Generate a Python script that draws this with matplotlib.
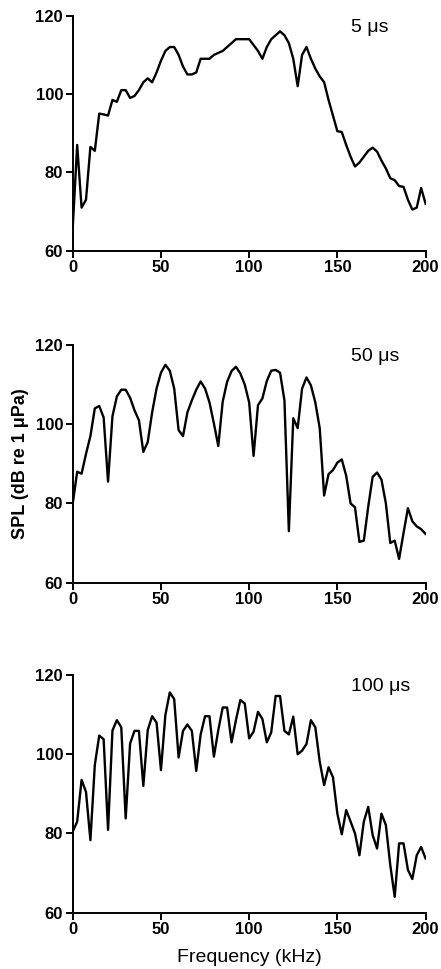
import numpy as np
import matplotlib
matplotlib.use("Agg")
import matplotlib.pyplot as plt

plt.rcParams['font.family'] = ['Liberation Sans', 'DejaVu Sans']

# frequency axis, 2.5 kHz steps
freq_khz = np.arange(0, 200.1, 2.5)

# SPL (dB re 1 uPa) for each pulse duration
spl_5us = [66, 87, 71, 73, 86.5, 85.5, 95, 94.8, 94.5, 98.5,
           98, 101, 101, 99, 99.5, 101, 103, 104, 103, 105.5,
           108.5, 111, 112, 112, 110, 107, 105, 105, 105.5, 109,
           109, 109, 110, 110.5, 111, 112, 113, 114, 114, 114,
           114, 112.5, 111, 109, 112, 114, 115, 116, 115, 113,
           109, 102, 110, 112, 109, 106.5, 104.5, 103, 98.5, 94.5,
           90.5, 90.3, 87, 84, 81.5, 82.5, 84, 85.5, 86.3, 85.3,
           83, 81, 78.5, 78, 76.5, 76.3, 73, 70.5, 71, 76,
           72]

spl_50us = [80, 88, 87.5, 92.5, 97, 104, 104.6, 101.7, 85.5, 102,
            107, 108.7, 108.7, 106.7, 103.5, 101, 93, 95.5, 103, 109,
            113, 115, 113.5, 109, 98.5, 97, 103, 106, 108.7, 110.8,
            109, 105.5, 100.2, 94.5, 105.7, 110.7, 113.4, 114.5, 112.8, 110,
            105.5, 92, 104.8, 106.5, 110.9, 113.5, 113.7, 113, 106, 73,
            101.5, 99, 109, 111.8, 109.8, 105.5, 99, 82, 87.4, 88.4,
            90.3, 91.1, 87, 80, 79, 70.3, 70.6, 79.2, 86.7, 87.8,
            86, 80, 70, 70.6, 66, 72.5, 78.8, 75.5, 74.2, 73.5,
            72.3]

spl_100us = [80.5, 83, 93.5, 90.5, 78.3, 97.3, 104.7, 103.8, 80.9, 106,
             108.6, 106.8, 83.8, 102.7, 105.9, 105.9, 92, 106.1, 109.6, 108,
             96, 109.9, 115.6, 113.9, 99.2, 105.9, 107.5, 105.9, 95.8, 105,
             109.6, 109.6, 99.4, 106.1, 111.8, 111.8, 103, 108.6, 113.7, 112.8,
             104, 105.7, 110.7, 108.9, 103, 105.5, 114.7, 114.7, 105.9, 105,
             109.5, 100, 100.9, 102.6, 108.6, 106.8, 98.1, 92.2, 96.7, 94.2,
             85, 79.8, 85.9, 83, 80, 74.5, 83, 86.7, 79.6, 76.2,
             85, 82.1, 72, 64, 77.5, 77.5, 70.8, 68.5, 74.5, 76.6,
             73.7]

labels = ['5 \u03bcs', '50 \u03bcs', '100 \u03bcs']
series = [spl_5us, spl_50us, spl_100us]

fig = plt.figure(figsize=(4.41, 9.69), dpi=100)
rects = [[0.165, 0.7413, 0.8, 0.2425],
         [0.165, 0.3987, 0.8, 0.2453],
         [0.165, 0.0581, 0.8, 0.2453]]

axes = []
for rect, spl, lab in zip(rects, series, labels):
    ax = fig.add_axes(rect)
    ax.plot(freq_khz, spl, color='black', linewidth=1.7)
    ax.set_xlim(0, 200)
    ax.set_ylim(60, 120)
    ax.set_xticks([0, 50, 100, 150, 200])
    ax.set_yticks([60, 80, 100, 120])
    for s in ['top', 'right']:
        ax.spines[s].set_visible(False)
    for s in ['left', 'bottom']:
        ax.spines[s].set_linewidth(1.4)
    ax.tick_params(direction='out', length=5, width=1.4, labelsize=12, pad=2)
    for t in ax.get_xticklabels() + ax.get_yticklabels():
        t.set_fontweight('bold')
    ax.text(158, 117, lab, fontsize=14, ha='left', va='center')
    axes.append(ax)

axes[1].set_ylabel('SPL (dB re 1 \u03bcPa)', fontsize=13, fontweight='bold')
axes[1].yaxis.set_label_coords(-0.125, 0.5)
axes[2].set_xlabel('Frequency (kHz)', fontsize=14, labelpad=8)

fig.savefig('out.png', dpi=100)
plt.close(fig)
